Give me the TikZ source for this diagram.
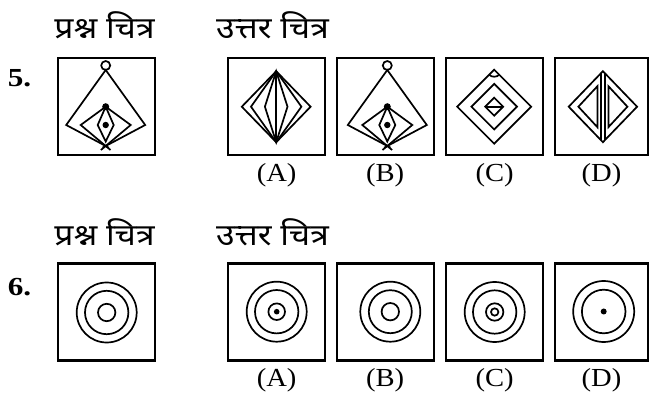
\documentclass[tikz,border=0pt]{standalone}
\usepackage{fontspec}
\setmainfont{Liberation Serif}
\newfontfamily\deva[Script=Devanagari]{Noto Sans}
\begin{document}
\begin{tikzpicture}[x=1pt,y=-1pt,
  frame/.style={draw, line width=2.1pt, minimum width=97pt, minimum height=97pt, inner sep=0pt},
  fig/.style={line width=1.7pt, line join=miter},
  lbl/.style={font=\fontsize{26}{28}\selectfont, inner sep=0pt},
  ttl/.style={font=\deva\fontsize{30}{32}\selectfont, inner sep=0pt},
  num/.style={font=\bfseries\fontsize{26}{28}\selectfont, inner sep=0pt}]
\useasboundingbox (0,0) rectangle (649,393);

% ---------- row 5 ----------
\node[ttl] (t5q) at (104.5,25) {\scalebox{1.12}[1]{प्रश्न चित्र}};
\node[ttl] (t5a) at (272.5,25) {\scalebox{1.12}[1]{उत्तर चित्र}};
\node[num] (n5) at (19.5,78.5) {\scalebox{1.2}[1]{5.}};

\node[frame] (q5) at (106.7,106.5) {};
\node[frame] (a5) at (276.6,106.5) {};
\node[frame] (b5) at (385.2,106.5) {};
\node[frame] (c5) at (494.7,106.5) {};
\node[frame, minimum width=93pt] (d5) at (601.5,106.5) {};

\foreach \nm/\cx in {A/276.6, B/385.2, C/494.7, D/601.5}
  \node[lbl] (l5\nm) at (\cx,175) {\scalebox{1.1}[1]{(\nm)}};

% question figure and answer B (same figure)
\foreach \fx in {105.7, 387.3} {
\begin{scope}[shift={(\fx,106.5)}, fig]
  \draw (0,-41) circle[radius=4.5];
  \draw (3.2,41.2) -- (-39.5,18.5) -- (0,-36.5) -- (39.5,18.5) -- (-3.2,41.2);
  \draw (4.8,43.5) -- (-25,18.5) -- (0,0.2) -- (25,18.5) -- (-4.8,43.5);
  \draw (0,35) -- (-8,18.5) -- (0,0.2) -- (8,18.5) -- cycle;
  \fill (0,0.2) circle[radius=3.5];
  \fill (0,18.5) circle[radius=3.2];
\end{scope}
}

% answer A
\begin{scope}[shift={(276.2,106.7)}, fig]
  \draw (0,-35.5) -- (-34.4,0) -- (0,35.5) -- (34.4,0) -- cycle;
  \draw (0,-35.5) -- (-25.2,0) -- (0,35.5) -- (25.2,0) -- cycle;
  \draw (0,-35.5) -- (-11.3,0) -- (0,35.5) -- (11.3,0) -- cycle;
  \draw (0,-35.5) -- (0,35.5);
\end{scope}

% answer C
\begin{scope}[shift={(494.2,106.7)}, fig]
  \draw (0,-37) -- (-37,0) -- (0,37) -- (37,0) -- cycle;
  \draw (0,-22.8) -- (-22.8,0) -- (0,22.8) -- (22.8,0) -- cycle;
  \draw (0,-9) -- (-9,0) -- (0,9) -- (9,0) -- cycle;
  \draw (-9,0) -- (9,0);
  \draw (-5,-32) .. controls (-3,-29.3) and (3,-29.3) .. (5,-32);
\end{scope}

% answer D
\begin{scope}[shift={(602.9,106.7)}, fig]
  \draw (0,-35.5) -- (-34.2,0) -- (0,35.5) -- (34.2,0) -- cycle;
  \draw (-2,-33.4) -- (-2,33.4);
  \draw (2,-33.4) -- (2,33.4);
  \draw (-5.5,-20.5) -- (-24.5,0) -- (-5.5,20.5) -- cycle;
  \draw (5.5,-20.5) -- (24.5,0) -- (5.5,20.5) -- cycle;
\end{scope}

% ---------- row 6 ----------
\node[ttl] (t6q) at (104.5,232) {\scalebox{1.12}[1]{प्रश्न चित्र}};
\node[ttl] (t6a) at (272.5,232) {\scalebox{1.12}[1]{उत्तर चित्र}};
\node[num] (n6) at (19.5,287) {\scalebox{1.2}[1]{6.}};

\node[frame] (q6) at (106.7,312) {};
\node[frame] (a6) at (276.6,312) {};
\node[frame] (b6) at (385.2,312) {};
\node[frame] (c6) at (494.7,312) {};
\node[frame, minimum width=93pt] (d6) at (601.5,312) {};

\foreach \nm/\cx in {A/276.6, B/385.2, C/494.7, D/601.5}
  \node[lbl] (l6\nm) at (\cx,380) {\scalebox{1.1}[1]{(\nm)}};

\begin{scope}[fig]
  % question
  \draw (106.7,312.5) circle[radius=30];
  \draw (106.7,312.5) circle[radius=21.7];
  \draw (106.7,312.5) circle[radius=8.7];
  % A
  \draw (276.7,311.7) circle[radius=30];
  \draw (276.7,311.7) circle[radius=21.7];
  \draw (276.7,311.7) circle[radius=8.3];
  \fill (276.7,311.7) circle[radius=2.8];
  % B
  \draw (390.3,311.7) circle[radius=30];
  \draw (390.3,311.7) circle[radius=21.5];
  \draw (390.3,311.7) circle[radius=8.7];
  % C
  \draw (494.7,312) circle[radius=30];
  \draw (494.7,312) circle[radius=21.7];
  \draw (494.7,312) circle[radius=8.7];
  \draw (494.7,312) circle[radius=3.7];
  % D
  \draw (603.7,311.5) circle[radius=30.5];
  \draw (603.7,311.5) circle[radius=21.8];
  \fill (603.7,311.5) circle[radius=3];
\end{scope}
\end{tikzpicture}
\end{document}
